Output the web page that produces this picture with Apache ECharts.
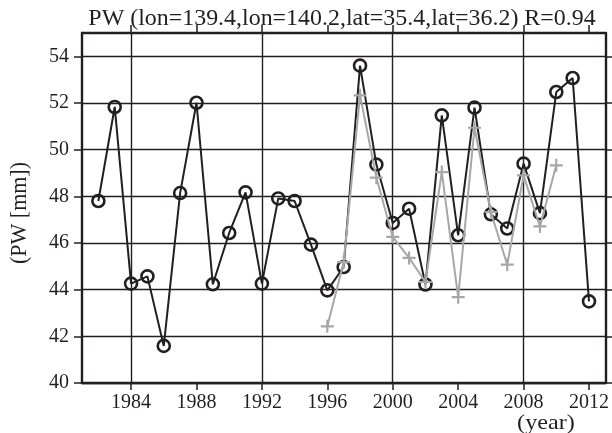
<!DOCTYPE html>
<html>
<head>
<meta charset="utf-8">
<script src="https://cdn.jsdelivr.net/npm/echarts@6/dist/echarts.min.js"></script>
<style>
  html, body { margin: 0; padding: 0; background: #fff; }
  #chart { width: 612px; height: 433px; }
</style>
</head>
<body>
<div id="chart"></div>
<script>
// ---- data ----
var obsYears = [1982,1983,1984,1985,1986,1987,1988,1989,1990,1991,1992,1993,1994,1995,1996,1997,1998,1999,2000,2001,2002,2003,2004,2005,2006,2007,2008,2009,2010,2011,2012];
var obsPW = [47.80,51.83,44.26,44.57,41.59,48.14,52.01,44.23,46.43,48.17,44.26,47.91,47.80,45.93,43.97,44.97,53.60,49.36,46.86,47.47,44.22,51.47,46.33,51.80,47.23,46.62,49.40,47.28,52.47,53.07,43.50];
var modYears = [1996,1997,1998,1999,2000,2001,2002,2003,2004,2005,2006,2007,2008,2009,2010];
var modPW = [42.43,45.18,52.33,48.80,46.26,45.36,44.33,49.04,43.68,50.94,47.33,45.07,48.90,46.71,49.33];
var xTicks = [1984,1988,1992,1996,2000,2004,2008,2012];
var xGrid = [1984,1992,2000,2008];
var yTicks = [40,42,44,46,48,50,52,54];
var titleText = 'PW (lon=139.4,lon=140.2,lat=35.4,lat=36.2) R=0.94';
var yName = '(PW [mm])';
var xName = '(year)';

var INK = '#231f20';
var GRAY = '#a7a7a7';
var FONT = '"Liberation Serif", "Times New Roman", serif';

function pairs(xs, ys) { return xs.map(function (x, i) { return [x, ys[i]]; }); }

var chart = echarts.init(document.getElementById('chart'), null, { renderer: 'canvas' });
var plus = 'path://M5,0 L7,0 L7,5 L12,5 L12,7 L7,7 L7,12 L5,12 L5,7 L0,7 L0,5 L5,5 Z';

chart.setOption({
  animation: false,
  backgroundColor: '#fff',
  grid: { left: 82, right: 6, top: 33, bottom: 50 },
  xAxis: [
    {
      type: 'value', position: 'bottom', min: 1981, max: 2013,
      axisLine: { show: true, onZero: false, lineStyle: { color: INK, width: 2.4 } },
      axisTick: { show: true, inside: false, length: 7, customValues: xTicks, lineStyle: { color: INK, width: 1.5 } },
      axisLabel: { show: true, customValues: xTicks, margin: 10, color: INK, fontFamily: FONT, fontSize: 20,
                   formatter: function (v) { return String(v); } },
      splitLine: { show: false }
    },
    {
      type: 'value', position: 'top', min: 1981, max: 2013,
      axisLine: { show: true, onZero: false, lineStyle: { color: INK, width: 2.4 } },
      axisTick: { show: true, inside: false, length: 8, customValues: xTicks, lineStyle: { color: INK, width: 1.5 } },
      axisLabel: { show: false },
      splitLine: { show: false }
    },
    {
      type: 'value', position: 'bottom', min: 1981, max: 2013,
      axisLine: { show: false },
      axisTick: { show: false, customValues: xGrid },
      axisLabel: { show: false },
      splitLine: { show: true, lineStyle: { color: INK, width: 1.4 } }
    }
  ],
  yAxis: [
    {
      type: 'value', position: 'left', min: 40, max: 55,
      axisLine: { show: true, onZero: false, lineStyle: { color: INK, width: 2.4 } },
      axisTick: { show: true, inside: false, length: 8, customValues: yTicks, lineStyle: { color: INK, width: 1.5 } },
      axisLabel: { show: true, customValues: yTicks, margin: 13, color: INK, fontFamily: FONT, fontSize: 20 },
      splitLine: { show: true, lineStyle: { color: INK, width: 1.4 } }
    },
    {
      type: 'value', position: 'right', min: 40, max: 55,
      axisLine: { show: true, onZero: false, lineStyle: { color: INK, width: 2.4 } },
      axisTick: { show: true, inside: false, length: 7, customValues: yTicks, lineStyle: { color: INK, width: 1.5 } },
      axisLabel: { show: false },
      splitLine: { show: false }
    }
  ],
  graphic: [
    { type: 'text', x: 342, y: 19, scaleX: 1.04,
      style: { text: titleText, font: '23px ' + FONT, fill: INK, align: 'center', verticalAlign: 'middle' } },
    { type: 'text', x: 20, y: 213, rotation: Math.PI / 2, scaleY: 1.08,
      style: { text: yName, font: '22px ' + FONT, fill: INK, align: 'center', verticalAlign: 'middle' } },
    { type: 'text', x: 546, y: 423, scaleX: 1.1,
      style: { text: xName, font: '22px ' + FONT, fill: INK, align: 'center', verticalAlign: 'middle' } }
  ],
  series: [
    {
      type: 'line', name: 'obs', xAxisIndex: 0, yAxisIndex: 0, z: 3,
      data: pairs(obsYears, obsPW),
      symbol: 'circle', symbolSize: 12,
      lineStyle: { color: INK, width: 2 },
      itemStyle: { color: 'rgba(0,0,0,0)', borderColor: INK, borderWidth: 2.6 }
    },
    {
      type: 'line', name: 'model', xAxisIndex: 0, yAxisIndex: 0, z: 4,
      data: pairs(modYears, modPW),
      symbol: plus, symbolSize: 13,
      lineStyle: { color: GRAY, width: 2 },
      itemStyle: { color: GRAY, borderWidth: 0 }
    }
  ]
});
</script>
</body>
</html>
